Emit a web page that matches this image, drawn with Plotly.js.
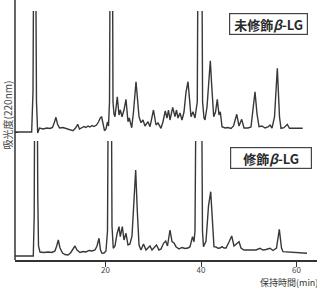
<!DOCTYPE html>
<html>
<head>
<meta charset="utf-8">
<script src="https://cdn.plot.ly/plotly-3.0.1.min.js"></script>
<style>html,body{margin:0;padding:0;background:#fff;}#chart{width:317px;height:291px;}</style>
</head>
<body>
<div id="chart"></div>
<script>
// Retention time (min) and absorbance (arbitrary units)
const upperTime = [1.05,4.54,4.82,5.03,5.30,5.55,5.80,6.18,6.91,7.75,8.38,8.90,9.32,9.63,9.95,10.37,11.10,11.94,12.77,13.19,13.72,14.18,14.55,15.08,15.50,15.92,16.34,16.75,17.17,17.59,18.12,18.53,18.95,19.20,19.48,19.79,20.10,20.42,20.63,20.84,21.24,21.57,21.78,21.99,22.47,22.83,23.10,23.46,23.87,24.29,24.71,24.98,25.49,25.86,26.39,26.70,27.02,27.43,27.85,28.27,28.90,29.32,29.74,30.05,30.58,31.00,31.62,32.04,32.52,32.88,33.19,33.51,34.07,34.55,34.87,35.18,35.60,36.02,36.44,36.86,37.28,37.59,37.91,38.32,38.74,39.06,39.22,39.77,40.33,40.63,40.84,41.26,41.61,41.95,42.26,42.66,43.04,43.41,43.77,44.04,44.40,45.03,45.65,46.28,46.81,47.48,47.96,48.52,49.01,49.84,50.47,50.89,51.31,51.73,52.15,52.77,53.40,54.03,54.45,54.87,55.39,55.98,56.44,56.75,57.38,58.07,58.53,59.69,61.30];
const upperAbs = [0,0,40,250,250,30,-1,4,3,4,3.5,4.5,10,14.7,8,4,4.5,3.5,2.5,1.3,4,7.7,3,4,5.5,4.5,6,5,6.5,5.5,7,10,14.5,15,7,1.3,3,10,6,30,500,30,18,15.3,35.3,17,22,15.3,22,32.7,10.3,14,4.3,20,50.3,35,15.3,9.3,12,6,10.3,5.3,14.7,22,7,9,3.7,10.3,21,14,22,12,24.7,15.3,22,14,19,12,20,40,50.3,30,15.3,20.3,14,25,30,600,30,14,12,25,55,71.3,45,15.3,20,32.7,17,20.3,5.3,4,4.5,3.5,6,17.7,6,12.7,4,4,5,20,40.3,18,5.3,6,4,5,7,4,15,63.7,15,3.7,4.3,7.7,3.7,3.7,3.7];

const lowerTime = [1.05,4.88,5.07,5.34,5.57,5.72,5.82,5.97,6.28,7.12,7.96,8.80,9.42,9.78,10.12,10.47,11.00,11.52,12.15,12.67,13.19,13.61,14.03,14.66,15.29,15.92,16.54,17.17,17.80,18.22,18.64,18.95,19.27,19.69,20.10,20.42,20.94,21.36,21.63,21.99,22.41,22.83,23.10,23.52,23.87,24.29,24.71,25.13,25.55,25.97,26.32,26.66,27.02,27.43,27.96,28.48,28.90,29.32,29.74,30.26,30.68,31.20,31.62,32.15,32.61,32.98,33.51,33.93,34.35,34.76,35.39,36.02,36.65,37.28,37.70,38.22,38.53,38.74,39.60,40.31,40.52,41.05,41.57,42.03,42.41,42.72,43.14,43.56,43.98,44.40,44.82,45.24,45.86,46.43,46.91,47.43,47.96,48.38,49.01,49.84,50.68,51.52,52.36,52.98,53.61,54.45,55.08,55.81,56.40,56.86,57.17,58.22,59.69,60.73,62.20];
const lowerAbs = [0,0,40,400,300,100,60,10,4,3.5,4,3.5,5,10,16,8,3,1.5,1,3,7,10,6,3.5,4.5,4,5.5,5,6,10,17.7,6,2.7,3,5,25,500,30,7.7,10,22,29.3,19.3,29.3,16,22.7,11,12,20,60,86,45,11,6,12,6,8,10,6,9,11,6,7,12.7,15,10,26,14.3,13,9.3,7,8.5,7.5,8,9.3,19.3,14.3,25,600,25,9.3,15,50,64.3,30,9.3,9,7.7,8,9.3,8,8,14,20,10,12,14.3,8,6,6,6,6,7.7,6,6.5,7.7,5.5,8,26.7,8,4.3,4,3,2.7,2.7];

const xTicks = [20, 40, 60];
const upperLabel = '未修飾<i>β</i>-LG';
const lowerLabel = '修飾<i>β</i>-LG';
const xTitle = '保持時間(min)';
const yTitle = '吸光度(220nm)';

const lineStyle = {color: '#383838', width: 1.4};
const traces = [
  {x: lowerTime, y: lowerAbs, type: 'scatter', mode: 'lines', line: lineStyle, xaxis: 'x', yaxis: 'y', hoverinfo: 'skip'},
  {x: upperTime, y: upperAbs, type: 'scatter', mode: 'lines', line: lineStyle, xaxis: 'x', yaxis: 'y2', hoverinfo: 'skip'}
];

const fontCJK = '"Noto Sans CJK JP", "Noto Sans", sans-serif';
const layout = {
  width: 317, height: 291,
  margin: {l: 15, r: 0, t: 0, b: 31},
  paper_bgcolor: '#fff', plot_bgcolor: '#fff',
  showlegend: false,
  xaxis: {
    range: [1.05, 64.29], showgrid: false, zeroline: false,
    showline: true, linecolor: '#333', linewidth: 1.5,
    ticks: 'outside', ticklen: 5, tickwidth: 1, tickcolor: '#333',
    ticklabelstandoff: -3,
    tickvals: xTicks, ticktext: xTicks.map(String),
    tickfont: {family: fontCJK, size: 8, color: '#444'}
  },
  yaxis: {domain: [0, 0.4577], range: [-4, 115], visible: false, fixedrange: true},
  yaxis2: {domain: [0.4615, 0.9577], range: [-8, 121], showgrid: false, zeroline: false,
    showline: false, showticklabels: false, ticks: 'inside', tickvals: [0], ticklen: 3, tickcolor: '#333'},
  shapes: [
    {type: 'line', xref: 'paper', yref: 'paper', x0: 0, x1: 0, y0: 0, y1: 1.0, line: {color: '#333', width: 1.5}}
  ],
  annotations: [
    {text: upperLabel, xref: 'paper', yref: 'paper', x: 0.839, y: 0.9096, xanchor: 'center', yanchor: 'middle',
     showarrow: false, font: {family: fontCJK, size: 13, color: '#2a2a2a', weight: 'bold'},
     bordercolor: '#444', borderwidth: 1.2, borderpad: 0, width: 77, height: 20, bgcolor: '#fff'},
    {text: lowerLabel, xref: 'paper', yref: 'paper', x: 0.847, y: 0.394, xanchor: 'center', yanchor: 'middle',
     showarrow: false, font: {family: fontCJK, size: 13, color: '#2a2a2a', weight: 'bold'},
     bordercolor: '#444', borderwidth: 1.2, borderpad: 0, width: 80, height: 20, bgcolor: '#fff'},
    {text: xTitle, xref: 'paper', yref: 'paper', x: 0.805, y: -0.085, xanchor: 'left', yanchor: 'middle',
     showarrow: false, font: {family: fontCJK, size: 9, color: '#333'}},
    {text: yTitle, xref: 'paper', yref: 'paper', x: -0.0265, y: 0.56, xanchor: 'center', yanchor: 'middle',
     textangle: -90, showarrow: false, font: {family: fontCJK, size: 10, color: '#444'}}
  ]
};

Plotly.newPlot('chart', traces, layout, {staticPlot: true, displayModeBar: false});
</script>
</body>
</html>
